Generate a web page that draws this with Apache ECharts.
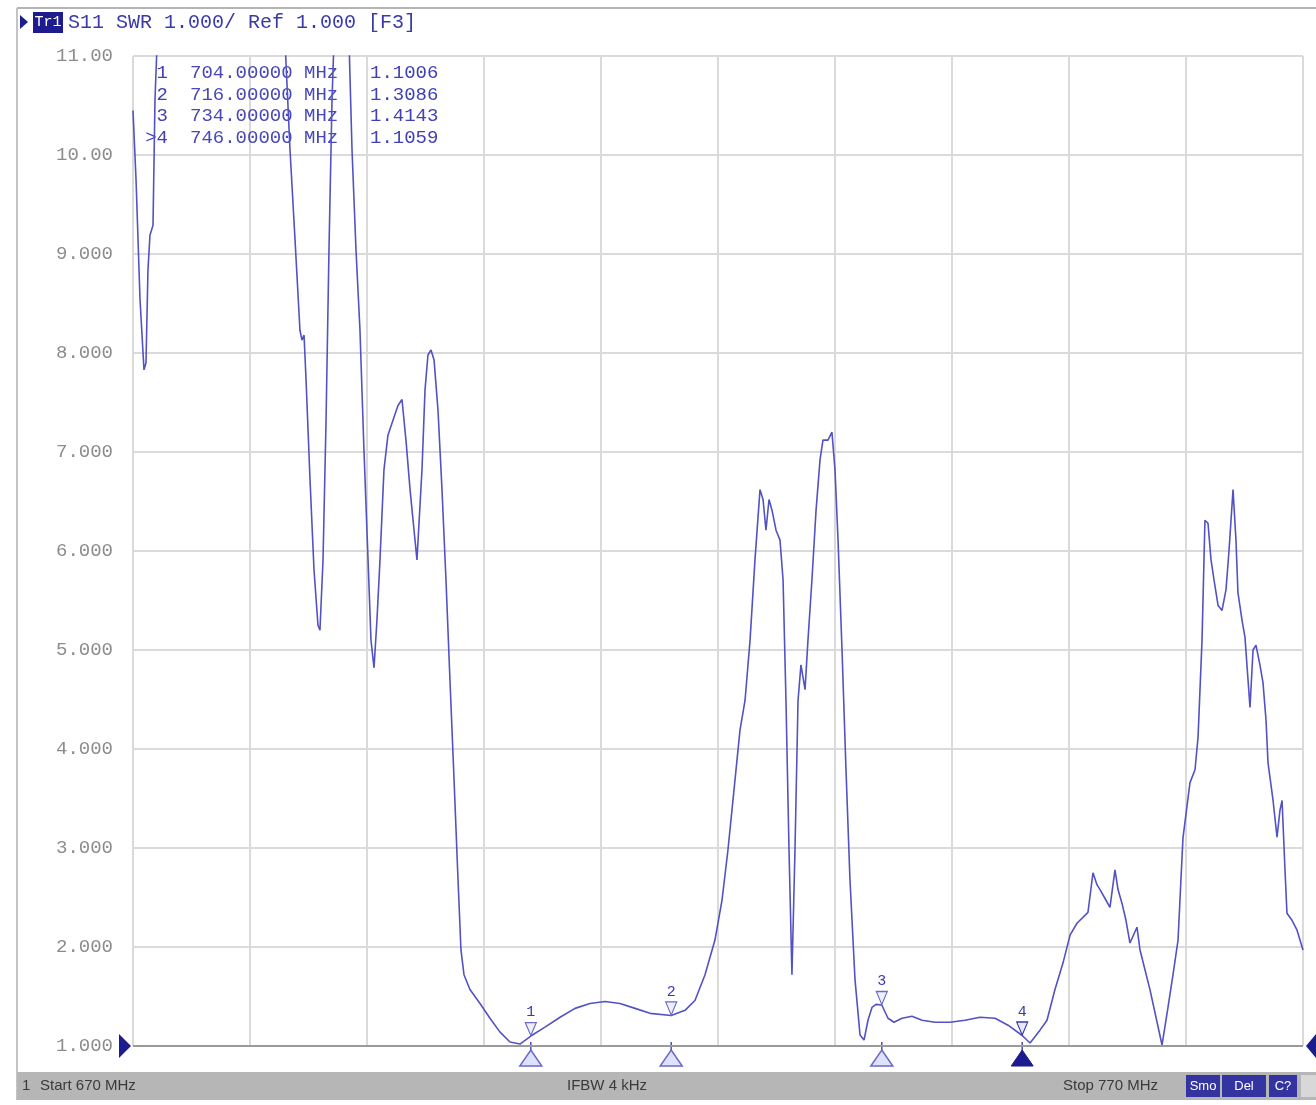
<!DOCTYPE html>
<html>
<head>
<meta charset="utf-8">
<title>S11 SWR</title>
<script src="https://cdn.jsdelivr.net/npm/echarts@6/dist/echarts.min.js"></script>
<style>
html, body { margin: 0; padding: 0; background: #fff; }
#chart { width: 1316px; height: 1105px; }
</style>
</head>
<body>
<div id="chart"></div>
<script>
// sweep: 670 - 770 MHz
const startMHz = 670
const stopMHz = 770

const freqMHz = [
  670.00, 670.26, 670.60, 670.94, 671.11, 671.28, 671.45, 671.71, 671.88, 672.05,
  672.60, 682.50, 682.99, 683.42, 683.85, 684.27, 684.44, 684.62, 684.79, 685.13,
  685.47, 685.81, 685.98, 686.24, 686.50, 686.75, 687.01, 687.18, 687.60, 688.10,
  688.46, 688.72, 689.06, 689.40, 689.74, 690.09, 690.34, 690.60, 690.85, 691.11,
  691.45, 691.79, 692.22, 692.65, 692.99, 693.33, 693.68, 694.02, 694.27, 694.44,
  694.70, 694.96, 695.21, 695.47, 695.73, 696.07, 696.41, 696.75, 697.09, 697.44,
  697.78, 698.03, 698.29, 698.80, 699.66, 700.51, 701.37, 702.22, 703.08, 704.00,
  705.21, 706.50, 707.78, 709.06, 710.34, 711.62, 712.91, 714.19, 716.00, 717.18,
  718.03, 718.89, 719.74, 720.34, 720.85, 721.37, 721.88, 722.31, 722.74, 723.16,
  723.59, 723.85, 724.10, 724.36, 724.62, 724.96, 725.30, 725.56, 725.81, 726.07,
  726.32, 726.58, 726.84, 727.09, 727.44, 727.69, 728.03, 728.38, 728.72, 728.97,
  729.40, 729.74, 730.00, 730.26, 730.60, 730.94, 731.28, 731.71, 732.14, 732.48,
  732.82, 733.16, 733.50, 734.00, 734.53, 735.04, 735.73, 736.58, 737.44, 738.55,
  739.83, 741.11, 742.39, 743.68, 744.79, 746.00, 746.67, 747.52, 748.12, 748.80,
  749.49, 750.09, 750.68, 751.62, 752.05, 752.39, 752.65, 753.08, 753.50, 753.93,
  754.19, 754.53, 754.87, 755.21, 755.81, 756.07, 756.92, 757.95, 758.46, 758.89,
  759.32, 759.74, 760.34, 760.77, 761.03, 761.37, 761.62, 761.88, 762.14, 762.39,
  762.74, 763.08, 763.42, 763.68, 764.02, 764.27, 764.44, 764.79, 765.04, 765.30,
  765.47, 765.73, 765.98, 766.32, 766.58, 766.84, 767.01, 767.44, 767.78, 768.03,
  768.21, 768.46, 768.63, 769.06, 769.49, 770.00
]

const swr = [
  10.45, 9.75, 8.54, 7.83, 7.90, 8.84, 9.19, 9.29, 10.56, 11.10,
  12.50, 12.50, 11.16, 10.05, 9.14, 8.23, 8.13, 8.18, 7.73, 6.72,
  5.81, 5.25, 5.20, 5.91, 7.32, 9.04, 10.56, 11.16, 12.00, 12.00,
  11.16, 10.05, 9.04, 8.23, 7.02, 5.91, 5.10, 4.82, 5.30, 5.91,
  6.82, 7.17, 7.32, 7.47, 7.53, 7.12, 6.62, 6.21, 5.91, 5.89,
  6.82, 7.63, 7.98, 8.03, 7.93, 7.42, 6.62, 5.71, 4.70, 3.69,
  2.68, 1.97, 1.72, 1.57, 1.43, 1.28, 1.14, 1.04, 1.02, 1.1006,
  1.19, 1.29, 1.38, 1.43, 1.45, 1.43, 1.38, 1.33, 1.3086, 1.36,
  1.46, 1.72, 2.07, 2.47, 2.98, 3.59, 4.19, 4.49, 5.10, 5.91,
  6.62, 6.52, 6.21, 6.52, 6.41, 6.21, 6.11, 5.71, 4.49, 2.98,
  1.72, 2.98, 4.49, 4.85, 4.60, 5.10, 5.71, 6.41, 6.92, 7.12,
  7.12, 7.20, 6.82, 6.11, 5.00, 3.79, 2.68, 1.67, 1.11, 1.06,
  1.26, 1.39, 1.42, 1.4143, 1.28, 1.24, 1.28, 1.30, 1.26, 1.24,
  1.24, 1.26, 1.29, 1.28, 1.21, 1.1059, 1.03, 1.16, 1.26, 1.57,
  1.84, 2.12, 2.24, 2.35, 2.75, 2.63, 2.58, 2.49, 2.40, 2.78,
  2.58, 2.44, 2.27, 2.04, 2.20, 1.97, 1.57, 1.01, 1.39, 1.72,
  2.07, 3.10, 3.66, 3.79, 4.12, 5.10, 6.31, 6.28, 5.91, 5.71,
  5.45, 5.40, 5.61, 6.01, 6.62, 6.11, 5.58, 5.30, 5.13, 4.70,
  4.42, 5.00, 5.05, 4.85, 4.67, 4.29, 3.86, 3.48, 3.11, 3.38,
  3.48, 2.78, 2.34, 2.27, 2.17, 1.97
]

const markerFreqs = [704, 716, 734, 746]
const markerSwr = [1.1006, 1.3086, 1.4143, 1.1059]
const activeMarker = 4

const yTickLabels = ['1.000', '2.000', '3.000', '4.000', '5.000', '6.000', '7.000', '8.000', '9.000', '10.00', '11.00']

const traceColor = '#5252c4'
const navy = '#1c1c8e'
const mono = '"Liberation Mono", "DejaVu Sans Mono", monospace'
const sans = '"Liberation Sans", Arial, sans-serif'

const chart = echarts.init(document.getElementById('chart'))

const seriesData = freqMHz.map((f, i) => [f, swr[i]])

chart.setOption({
  animation: false,
  backgroundColor: '#fff',
  grid: {
    left: 133,
    right: 13,
    top: 56,
    bottom: 59,
    show: true,
    borderColor: '#a8a8a8',
    borderWidth: 1
  },
  xAxis: {
    type: 'value',
    min: startMHz,
    max: stopMHz,
    interval: 10,
    axisLabel: { show: false },
    axisTick: { show: false },
    axisLine: { show: false },
    splitLine: { lineStyle: { color: '#dadada', width: 2 } }
  },
  yAxis: {
    type: 'value',
    min: 1,
    max: 11,
    interval: 1,
    axisTick: { show: false },
    axisLine: { show: false },
    splitLine: { lineStyle: { color: '#dadada', width: 2 } },
    axisLabel: {
      margin: 20,
      fontFamily: mono,
      fontSize: 19,
      color: v => (v === 1 ? '#2a2aa8' : '#8c8c8c'),
      formatter: v => yTickLabels[Math.round(v) - 1]
    }
  },
  series: [
    {
      name: 'S11',
      type: 'line',
      data: seriesData,
      showSymbol: false,
      clip: true,
      lineStyle: { color: traceColor, width: 1.6 },
      markLine: {
        silent: true,
        symbol: 'none',
        label: { show: false },
        lineStyle: { color: '#9a9a9a', width: 2, type: 'solid' },
        data: [{ yAxis: 1 }]
      },
      markPoint: {
        symbol: 'triangle',
        symbolRotate: 180,
        symbolSize: [11, 13],
        symbolOffset: [0, -7],
        label: {
          show: true,
          position: 'top',
          distance: 2,
          fontFamily: mono,
          fontSize: 15,
          color: '#3a3ab0',
          formatter: p => p.name
        },
        data: markerFreqs.map((f, i) => ({
          name: String(i + 1),
          coord: [f, markerSwr[i]],
          itemStyle: i + 1 === activeMarker
            ? { color: '#e8e8ff', borderColor: '#3a3ab0', borderWidth: 1.2 }
            : { color: '#eef0ff', borderColor: '#6a6ac8', borderWidth: 1.2 }
        }))
      }
    }
  ]
})

// extra display decorations positioned from the chart's own scales
const graphics = []

// outer frame
graphics.push({ type: 'line', shape: { x1: 17, y1: 8, x2: 1316, y2: 8 }, style: { stroke: '#b4b4b4', lineWidth: 2 } })
graphics.push({ type: 'line', shape: { x1: 17, y1: 8, x2: 17, y2: 1100 }, style: { stroke: '#c4c4c4', lineWidth: 2 } })

// header
graphics.push({ type: 'polygon', shape: { points: [[20, 15], [28, 22], [20, 29]] }, style: { fill: navy } })
graphics.push({ type: 'rect', shape: { x: 33, y: 12, width: 30, height: 21 }, style: { fill: navy } })
graphics.push({ type: 'text', style: { x: 48, y: 22.5, text: 'Tr1', fill: '#fff', font: '15px ' + mono, align: 'center', verticalAlign: 'middle' } })
graphics.push({
  type: 'text',
  style: { x: 68, y: 23, text: 'S11 SWR 1.000/ Ref 1.000 [F3]', fill: '#3a3aa8', font: '20px ' + mono, verticalAlign: 'middle' }
})

// marker table
markerFreqs.forEach((f, i) => {
  const y = 73 + i * 21.6
  const num = i + 1 === activeMarker ? '>' + (i + 1) : String(i + 1)
  graphics.push({ type: 'text', style: { x: 168, y: y, text: num, fill: '#4040b4', font: '19px ' + mono, align: 'right', verticalAlign: 'middle' } })
  graphics.push({ type: 'text', style: { x: 190, y: y, text: f.toFixed(5) + ' MHz', fill: '#4848b8', font: '19px ' + mono, verticalAlign: 'middle' } })
  graphics.push({ type: 'text', style: { x: 370, y: y, text: markerSwr[i].toFixed(4), fill: '#4040b4', font: '19px ' + mono, verticalAlign: 'middle' } })
})

// marker flags below the axis
const yBase = chart.convertToPixel({ gridIndex: 0 }, [startMHz, 1])[1]
markerFreqs.forEach((f, i) => {
  const x = chart.convertToPixel({ gridIndex: 0 }, [f, 1])[0]
  const active = i + 1 === activeMarker
  graphics.push({ type: 'line', shape: { x1: x, y1: yBase - 4, x2: x, y2: yBase + 8 }, style: { stroke: '#4a4ab8', lineWidth: 1.5 } })
  graphics.push({
    type: 'polygon',
    shape: { points: [[x, yBase + 4], [x + 11, yBase + 20], [x - 11, yBase + 20]] },
    style: active ? { fill: navy, stroke: navy, lineWidth: 1 } : { fill: '#dfe2ff', stroke: '#6a6ac8', lineWidth: 1.5 }
  })
})

// reference level arrows
graphics.push({ type: 'polygon', shape: { points: [[119, yBase - 12], [131, yBase], [119, yBase + 12]] }, style: { fill: navy } })
graphics.push({ type: 'polygon', shape: { points: [[1316, yBase - 12], [1306, yBase], [1316, yBase + 12]] }, style: { fill: navy } })

// status bar
graphics.push({ type: 'rect', shape: { x: 17, y: 1072, width: 1299, height: 28 }, style: { fill: '#b6b6b6' } })
graphics.push({ type: 'text', style: { x: 22, y: 1086, text: '1', fill: '#3a3a3a', font: '15px ' + sans, verticalAlign: 'middle' } })
graphics.push({ type: 'text', style: { x: 40, y: 1086, text: 'Start ' + startMHz + ' MHz', fill: '#3a3a3a', font: '15px ' + sans, verticalAlign: 'middle' } })
graphics.push({ type: 'text', style: { x: 567, y: 1086, text: 'IFBW 4 kHz', fill: '#3a3a3a', font: '15px ' + sans, verticalAlign: 'middle' } })
graphics.push({ type: 'text', style: { x: 1063, y: 1086, text: 'Stop ' + stopMHz + ' MHz', fill: '#3a3a3a', font: '15px ' + sans, verticalAlign: 'middle' } })
const boxes = [['Smo', 1186, 34], ['Del', 1222, 44], ['C?', 1269, 28]]
boxes.forEach(b => {
  graphics.push({ type: 'rect', shape: { x: b[1], y: 1075, width: b[2], height: 22 }, style: { fill: '#3434a0' } })
  graphics.push({ type: 'text', style: { x: b[1] + b[2] / 2, y: 1086, text: b[0], fill: '#fff', font: '13px ' + sans, align: 'center', verticalAlign: 'middle' } })
})
graphics.push({ type: 'rect', shape: { x: 1301, y: 1075, width: 15, height: 22 }, style: { fill: '#d8d8d8' } })

chart.setOption({ graphic: graphics })
</script>
</body>
</html>
